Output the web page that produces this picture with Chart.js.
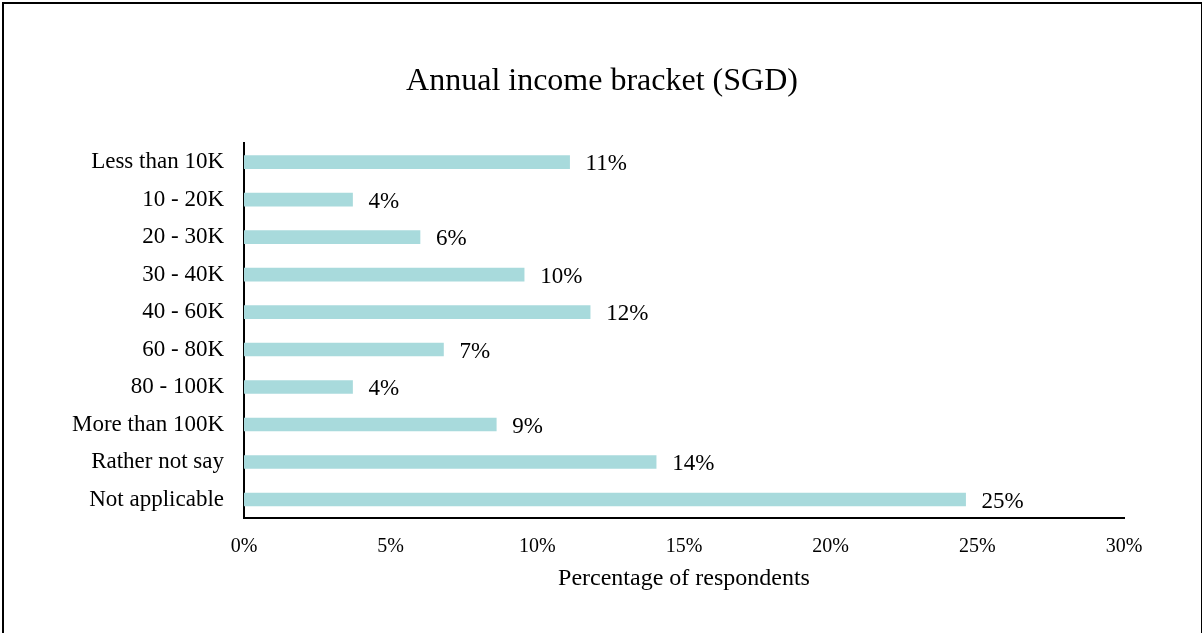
<!DOCTYPE html>
<html>
<head>
<meta charset="utf-8">
<script src="https://cdn.jsdelivr.net/npm/chart.js@4"></script>
<style>
    body { margin: 0; background: #fff; }
    #wrap { position: relative; width: 1204px; height: 633px; }
    #frame {
        position: absolute; left: 2px; top: 2px; width: 1197px; height: 700px;
        border: 2px solid #000; border-right-width: 1px; pointer-events: none;
    }
</style>
</head>
<body>
<div id="wrap">
    <canvas id="barChart" width="1204" height="633"></canvas>
    <div id="frame"></div>
</div>
<script>
const categories = [
    "Less than 10K", "10 - 20K", "20 - 30K", "30 - 40K", "40 - 60K",
    "60 - 80K", "80 - 100K", "More than 100K", "Rather not say", "Not applicable"
];
const percentages = [11.1, 3.7, 6.0, 9.55, 11.8, 6.8, 3.7, 8.6, 14.05, 24.6];
const xTicks = [0, 5, 10, 15, 20, 25, 30];

const serif = "'Liberation Serif', 'Times New Roman', serif";

// value labels at the end of each bar
const barLabels = {
    id: "barLabels",
    afterDatasetsDraw(chart) {
        const ctx = chart.ctx;
        const meta = chart.getDatasetMeta(0);
        ctx.save();
        ctx.font = "23px " + serif;
        ctx.fillStyle = "#000";
        ctx.textBaseline = "middle";
        ctx.textAlign = "left";
        meta.data.forEach((bar, i) => {
            ctx.fillText(Math.round(percentages[i]) + "%", bar.x + 16, bar.y + 2);
        });
        ctx.restore();
    }
};

new Chart(document.getElementById("barChart"), {
    type: "bar",
    data: {
        labels: categories,
        datasets: [{
            data: percentages,
            backgroundColor: "#a8dadc",
            barThickness: 13
        }]
    },
    options: {
        indexAxis: "y",
        responsive: false,
        animation: false,
        layout: { padding: { left: 40, right: 40, top: 0, bottom: 38 } },
        plugins: {
            legend: { display: false },
            tooltip: { enabled: false },
            title: {
                display: true,
                text: "Annual income bracket (SGD)",
                color: "#000",
                font: { family: serif, size: 32, weight: "normal" },
                padding: { top: 62, bottom: 43 }
            }
        },
        scales: {
            x: {
                min: 0, max: 30,
                afterBuildTicks: axis => { axis.ticks = xTicks.map(v => ({ value: v })); },
                grid: { display: false, drawTicks: false },
                border: { display: true, color: "#000", width: 2 },
                ticks: {
                    color: "#000",
                    padding: 17,
                    font: { family: serif, size: 20 },
                    callback: v => v + "%"
                },
                title: {
                    display: true,
                    text: "Percentage of respondents",
                    color: "#000",
                    font: { family: serif, size: 24 },
                    padding: { top: -12, bottom: 2 }
                }
            },
            y: {
                grid: { display: false, drawTicks: false },
                border: { display: true, color: "#000", width: 2 },
                afterFit: axis => { axis.width = 204; },
                ticks: {
                    color: "#000",
                    padding: 20,
                    font: { family: serif, size: 23 }
                }
            },
            // empty right-hand spacer so the title stays centred on the page
            spacer: {
                type: "linear",
                position: "right",
                grid: { display: false, drawTicks: false },
                border: { display: false },
                ticks: { display: false },
                afterFit: axis => { axis.width = 40; }
            }
        }
    },
    plugins: [barLabels]
});
</script>
</body>
</html>
